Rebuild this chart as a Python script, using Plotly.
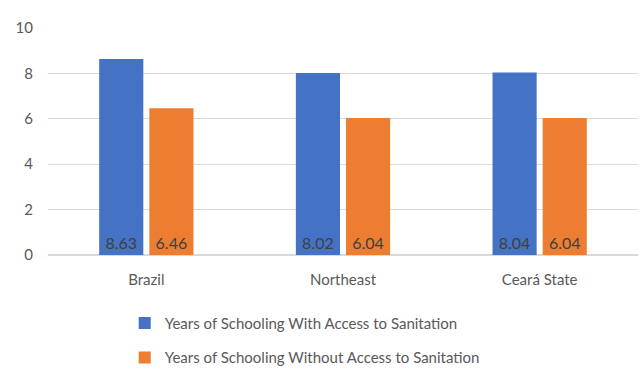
import plotly.graph_objects as go

regions = ["Brazil", "Northeast", "Ceará State"]
with_sanitation = [8.63, 8.02, 8.04]
without_sanitation = [6.46, 6.04, 6.04]
series_names = [
    "Years of Schooling With Access to Sanitation",
    "Years of Schooling Without Access to Sanitation",
]
y_ticks = [0, 2, 4, 6, 8, 10]

FONT = "Lato, Carlito, Calibri, sans-serif"
TEXT_GREY = "#595959"

fig = go.Figure()
for name, vals, color, grp in [
    (series_names[0], with_sanitation, "#4472C4", "a"),
    (series_names[1], without_sanitation, "#ED7D31", "b"),
]:
    fig.add_trace(go.Bar(
        x=regions, y=vals, name=name,
        marker=dict(color=color, line=dict(width=0)),
        text=[f"{v:.2f}" for v in vals],
        textposition="inside", insidetextanchor="start",
        textfont=dict(family=FONT, size=16, color="#404040"),
        legendgroup=grp,
    ))

fig.update_layout(
    width=643, height=374,
    margin=dict(l=48, r=5, t=28, b=119, autoexpand=False),
    paper_bgcolor="white", plot_bgcolor="white",
    barmode="group", bargap=0.49, bargroupgap=0.12,
    font=dict(family=FONT, size=15, color=TEXT_GREY),
    showlegend=True,
    legend=dict(
        x=0.13, xanchor="left", y=-0.228, yanchor="top",
        orientation="v", traceorder="grouped", tracegroupgap=12,
        font=dict(family=FONT, size=15, color=TEXT_GREY),
        itemwidth=30,
    ),
    xaxis=dict(showline=False, ticks="", ticklabelstandoff=14,
               tickfont=dict(size=15, color=TEXT_GREY)),
    yaxis=dict(
        range=[0, 10], tickvals=y_ticks, showgrid=True, gridcolor="#d9d9d9",
        gridwidth=1, zeroline=True, zerolinecolor="#d9d9d9", ticks="",
        tickfont=dict(size=15, color=TEXT_GREY), ticklabelstandoff=14,
    ),
)

fig.write_html("out.html")
